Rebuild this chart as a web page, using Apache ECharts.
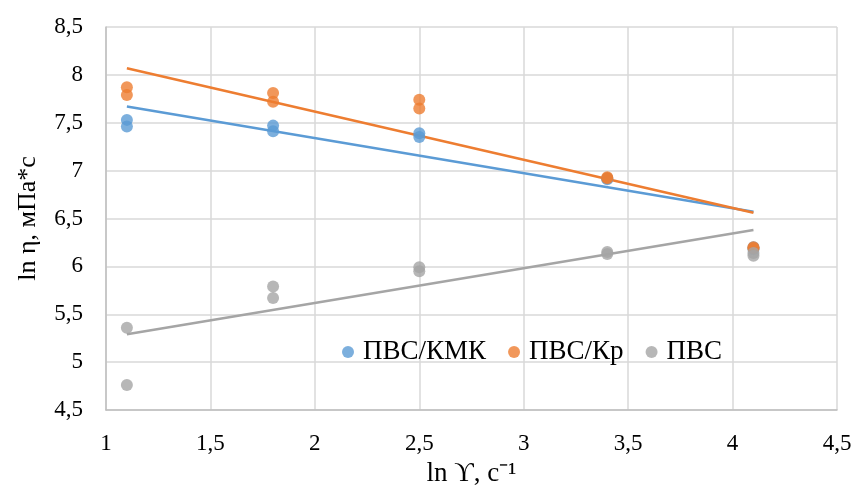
<!DOCTYPE html>
<html><head><meta charset="utf-8">
<script src="https://cdn.jsdelivr.net/npm/echarts@6/dist/echarts.min.js"></script>
<style>html,body{margin:0;padding:0;background:#fff}#c{width:853px;height:488px}</style>
</head><body><div id="c"></div>
<script>
const seriesNames = ['ПВС/КМК', 'ПВС/Кр', 'ПВС'];
const xKmk = [1.1, 1.1, 1.8, 1.8, 2.5, 2.5, 3.4, 3.4, 4.1, 4.1];
const yKmk = [7.53, 7.46, 7.47, 7.41, 7.39, 7.35, 6.92, 6.91, 6.20, 6.18];
const xKr = [1.1, 1.1, 1.8, 1.8, 2.5, 2.5, 3.4, 3.4, 4.1, 4.1];
const yKr = [7.87, 7.79, 7.81, 7.72, 7.74, 7.65, 6.93, 6.92, 6.20, 6.19];
const xPvs = [1.1, 1.1, 1.8, 1.8, 2.5, 2.5, 3.4, 3.4, 4.1, 4.1];
const yPvs = [5.36, 4.76, 5.79, 5.67, 5.99, 5.95, 6.15, 6.13, 6.14, 6.11];
// trendline endpoints
const trendX = [1.1, 4.1];
const trendKmk = [7.67, 6.57];
const trendKr = [8.07, 6.56];
const trendPvs = [5.29, 6.38];
const colors = ['#5B9BD5', '#ED7D31', '#A5A5A5'];
const zip = (xs, ys) => xs.map((x, i) => [x, ys[i]]);
const font = 'Liberation Serif';
const chart = echarts.init(document.getElementById('c'));
const scatter = (name, xs, ys, c) => ({
  name, type: 'scatter', data: zip(xs, ys), symbolSize: 12,
  itemStyle: {color: c}, z: 3
});
const trend = (ys, c) => ({
  type: 'line', data: zip(trendX, ys), symbol: 'none',
  lineStyle: {color: c, width: 2.5}, z: 2, silent: true
});
chart.setOption({
  animation: false,
  textStyle: {fontFamily: font},
  grid: {left: 106, right: 16, top: 27, bottom: 78, containLabel: false, outerBoundsMode: 'none'},
  legend: {
    data: seriesNames, left: 337, top: 333, itemWidth: 12, itemHeight: 12,
    itemGap: 22, icon: 'circle',
    textStyle: {fontFamily: font, fontSize: 27, lineHeight: 28, color: '#000', padding: [0, 0, 0, 4]}
  },
  xAxis: {
    type: 'value', min: 1, max: 4.5, interval: 0.5,
    name: 'ln ϒ, с⁻¹', nameLocation: 'middle', nameGap: 50,
    nameTextStyle: {fontFamily: font, fontSize: 27, color: '#000'},
    axisLine: {show: true, lineStyle: {color: '#BFBFBF', width: 1.5}},
    axisTick: {show: false},
    axisLabel: {fontFamily: font, fontSize: 23, color: '#000', margin: 22,
      formatter: v => String(v).replace('.', ',')},
    splitLine: {show: true, lineStyle: {color: '#D9D9D9', width: 1.5}}
  },
  yAxis: {
    type: 'value', min: 4.5, max: 8.5, interval: 0.5,
    name: 'ln η, мПа*с', nameLocation: 'middle', nameGap: 65,
    nameTextStyle: {fontFamily: font, fontSize: 26, color: '#000'},
    axisLine: {show: true, lineStyle: {color: '#BFBFBF', width: 1.5}},
    axisTick: {show: false},
    axisLabel: {fontFamily: font, fontSize: 23, color: '#000', margin: 23,
      formatter: v => String(v).replace('.', ',')},
    splitLine: {show: true, lineStyle: {color: '#D9D9D9', width: 1.5}}
  },
  series: [
    scatter(seriesNames[0], xKmk, yKmk, colors[0]),
    scatter(seriesNames[1], xKr, yKr, colors[1]),
    scatter(seriesNames[2], xPvs, yPvs, colors[2]),
    trend(trendKmk, colors[0]),
    trend(trendKr, colors[1]),
    trend(trendPvs, colors[2])
  ]
});
</script></body></html>
